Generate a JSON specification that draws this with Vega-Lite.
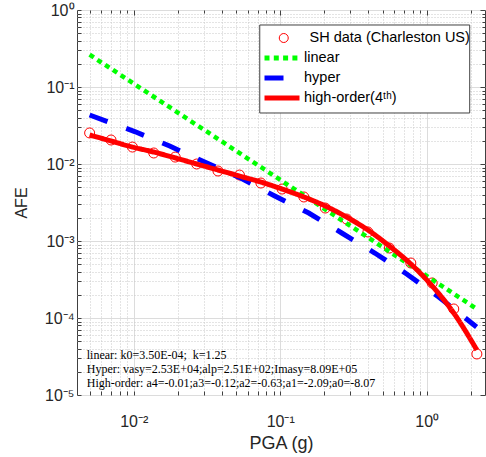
{
  "$schema": "https://vega.github.io/schema/vega-lite/v6.json",
  "autosize": "none",
  "width": 408,
  "height": 385,
  "padding": {"left": 77, "top": 10, "right": 1, "bottom": 62},
  "background": "white",
  "config": {
    "view": {"stroke": "#404040", "strokeWidth": 1},
    "font": "Liberation Sans"
  },
  "datasets": {
    "pts": [
      {"x": 0.005, "y": 0.0253, "series": "SH data (Charleston US)"},
      {"x": 0.007, "y": 0.0205, "series": "SH data (Charleston US)"},
      {"x": 0.0098, "y": 0.0166, "series": "SH data (Charleston US)"},
      {"x": 0.0137, "y": 0.0139, "series": "SH data (Charleston US)"},
      {"x": 0.0192, "y": 0.0123, "series": "SH data (Charleston US)"},
      {"x": 0.0269, "y": 0.0100, "series": "SH data (Charleston US)"},
      {"x": 0.0376, "y": 0.00811, "series": "SH data (Charleston US)"},
      {"x": 0.0527, "y": 0.00719, "series": "SH data (Charleston US)"},
      {"x": 0.0738, "y": 0.00566, "series": "SH data (Charleston US)"},
      {"x": 0.103, "y": 0.00473, "series": "SH data (Charleston US)"},
      {"x": 0.145, "y": 0.00373, "series": "SH data (Charleston US)"},
      {"x": 0.203, "y": 0.00268, "series": "SH data (Charleston US)"},
      {"x": 0.284, "y": 0.00193, "series": "SH data (Charleston US)"},
      {"x": 0.397, "y": 0.00131, "series": "SH data (Charleston US)"},
      {"x": 0.556, "y": 0.000811, "series": "SH data (Charleston US)"},
      {"x": 0.779, "y": 0.000518, "series": "SH data (Charleston US)"},
      {"x": 1.09, "y": 0.000285, "series": "SH data (Charleston US)"},
      {"x": 1.53, "y": 0.000131, "series": "SH data (Charleston US)"},
      {"x": 2.2, "y": 0.0000341, "series": "SH data (Charleston US)"}
    ],
    "lin": [
      {"x": 0.005, "y": 0.263, "series": "linear"},
      {"x": 2.2, "y": 0.000131, "series": "linear"}
    ],
    "hyp": [
      {"x": 0.005, "y": 0.0433, "series": "hyper"},
      {"x": 0.01016, "y": 0.0264, "series": "hyper"},
      {"x": 0.0176, "y": 0.0171, "series": "hyper"},
      {"x": 0.0305, "y": 0.0106, "series": "hyper"},
      {"x": 0.0537, "y": 0.00658, "series": "hyper"},
      {"x": 0.0918, "y": 0.00384, "series": "hyper"},
      {"x": 0.1566, "y": 0.00231, "series": "hyper"},
      {"x": 0.263, "y": 0.00127, "series": "hyper"},
      {"x": 0.442, "y": 0.000698, "series": "hyper"},
      {"x": 0.730, "y": 0.000373, "series": "hyper"},
      {"x": 1.208, "y": 0.000187, "series": "hyper"},
      {"x": 2.19, "y": 0.0000764, "series": "hyper"}
    ],
    "hio": [
      {"x": 0.005, "y": 0.0238, "series": "high-order(4ᵗʰ)"},
      {"x": 0.007, "y": 0.0199, "series": "high-order(4ᵗʰ)"},
      {"x": 0.0098, "y": 0.0166, "series": "high-order(4ᵗʰ)"},
      {"x": 0.0137, "y": 0.0143, "series": "high-order(4ᵗʰ)"},
      {"x": 0.0192, "y": 0.0120, "series": "high-order(4ᵗʰ)"},
      {"x": 0.0269, "y": 0.0100, "series": "high-order(4ᵗʰ)"},
      {"x": 0.0376, "y": 0.00836, "series": "high-order(4ᵗʰ)"},
      {"x": 0.0527, "y": 0.00698, "series": "high-order(4ᵗʰ)"},
      {"x": 0.0738, "y": 0.00583, "series": "high-order(4ᵗʰ)"},
      {"x": 0.103, "y": 0.00473, "series": "high-order(4ᵗʰ)"},
      {"x": 0.145, "y": 0.00373, "series": "high-order(4ᵗʰ)"},
      {"x": 0.203, "y": 0.00285, "series": "high-order(4ᵗʰ)"},
      {"x": 0.284, "y": 0.00205, "series": "high-order(4ᵗʰ)"},
      {"x": 0.397, "y": 0.00139, "series": "high-order(4ᵗʰ)"},
      {"x": 0.556, "y": 0.000861, "series": "high-order(4ᵗʰ)"},
      {"x": 0.779, "y": 0.000503, "series": "high-order(4ᵗʰ)"},
      {"x": 1.09, "y": 0.000261, "series": "high-order(4ᵗʰ)"},
      {"x": 1.53, "y": 0.000116, "series": "high-order(4ᵗʰ)"},
      {"x": 2.2, "y": 0.0000384, "series": "high-order(4ᵗʰ)"}
    ],
    "notes": [
      {"x": 0.00478, "y": 0.000033, "label": "linear: k0=3.50E-04; \u00a0k=1.25"},
      {"x": 0.00478, "y": 0.0000218, "label": "Hyper: vasy=2.53E+04;alp=2.51E+02;Imasy=8.09E+05"},
      {"x": 0.00478, "y": 0.0000143, "label": "High-order: a4=-0.01;a3=-0.12;a2=-0.63;a1=-2.09;a0=-8.07"}
    ]
  },
  "layer": [
    {
      "data": {"name": "pts"},
      "mark": {"type": "point", "shape": "circle", "filled": false, "size": 100, "strokeWidth": 1, "opacity": 1, "color": "#ff0000"},
      "encoding": {
        "x": {
          "field": "x", "type": "quantitative",
          "scale": {"type": "log", "domain": [0.0041, 2.5], "nice": false},
          "axis": {
            "orient": "bottom",
            "values": [0.005,0.006,0.007,0.008,0.009,0.01,0.02,0.03,0.04,0.05,0.06,0.07,0.08,0.09,0.1,0.2,0.3,0.4,0.5,0.6,0.7,0.8,0.9,1,2],
            "labelExpr": "datum.value == 0.01 ? '10⁻²' : datum.value == 0.1 ? '10⁻¹' : datum.value == 1 ? '10⁰' : ''",
            "labelOverlap": false, "labelBound": false, "labelFlush": false,
            "labelFontSize": 16, "labelColor": "#262626", "labelPadding": 22,
            "domain": false,
            "grid": true,
            "gridColor": {"condition": {"test": "datum.value == 0.01 || datum.value == 0.1 || datum.value == 1", "value": "#dcdcdc"}, "value": "#c8c8c8"},
            "gridDash": {"condition": {"test": "datum.value == 0.01 || datum.value == 0.1 || datum.value == 1", "value": []}, "value": [1, 2]},
            "ticks": true,
            "tickColor": "#404040",
            "tickSize": -4,
            "title": "PGA (g)", "titleFontSize": 18, "titleFontWeight": "normal", "titleColor": "#262626", "titlePadding": 5
          }
        },
        "y": {
          "field": "y", "type": "quantitative",
          "scale": {"type": "log", "domain": [0.00001, 1], "nice": false},
          "axis": {
            "orient": "left",
            "values": [0.00001,0.00002,0.00003,0.00004,0.00005,0.00006,0.00007,0.00008,0.00009,0.0001,0.0002,0.0003,0.0004,0.0005,0.0006,0.0007,0.0008,0.0009,0.001,0.002,0.003,0.004,0.005,0.006,0.007,0.008,0.009,0.01,0.02,0.03,0.04,0.05,0.06,0.07,0.08,0.09,0.1,0.2,0.3,0.4,0.5,0.6,0.7,0.8,0.9,1],
            "labelExpr": "datum.value == 1 ? '10⁰' : datum.value == 0.1 ? '10⁻¹' : datum.value == 0.01 ? '10⁻²' : datum.value == 0.001 ? '10⁻³' : datum.value == 0.0001 ? '10⁻⁴' : datum.value == 0.00001 ? '10⁻⁵' : ''",
            "labelOverlap": false, "labelBound": false, "labelFlush": false,
            "labelFontSize": 16, "labelColor": "#262626", "labelPadding": 7,
            "domain": false,
            "grid": true,
            "gridColor": {"condition": {"test": "datum.value == 1 || datum.value == 0.1 || datum.value == 0.01 || datum.value == 0.001 || datum.value == 0.0001 || datum.value == 0.00001", "value": "#dcdcdc"}, "value": "#c8c8c8"},
            "gridDash": {"condition": {"test": "datum.value == 1 || datum.value == 0.1 || datum.value == 0.01 || datum.value == 0.001 || datum.value == 0.0001 || datum.value == 0.00001", "value": []}, "value": [1, 2]},
            "ticks": true,
            "tickColor": "#404040",
            "tickSize": -4,
            "title": "AFE", "titleFontSize": 16, "titleFontWeight": "normal", "titleColor": "#262626", "titlePadding": 15
          }
        },
        "shape": {
          "field": "series", "type": "nominal",
          "scale": {"domain": ["SH data (Charleston US)"], "range": ["circle"]},
          "legend": {
            "title": null,
            "orient": "none",
            "legendX": 199.5,
            "legendY": 20,
            "direction": "vertical",
            "padding": 0,
            "symbolType": "circle",
            "symbolSize": 81,
            "symbolStrokeWidth": 1,
            "symbolStrokeColor": "#ff0000",
            "symbolFillColor": "transparent",
            "clipHeight": 16,
            "labelFont": "Liberation Sans",
            "labelFontSize": 14.5,
            "labelColor": "#000000",
            "labelOffset": 18.5,
            "labelLimit": 300
          }
        }
      }
    },
    {
      "data": {"name": "lin"},
      "mark": {"type": "line", "strokeWidth": 4.5},
      "encoding": {
        "x": {
          "field": "x", "type": "quantitative",
          "axis": {
            "orient": "top",
            "values": [0.005,0.006,0.007,0.008,0.009,0.01,0.02,0.03,0.04,0.05,0.06,0.07,0.08,0.09,0.1,0.2,0.3,0.4,0.5,0.6,0.7,0.8,0.9,1,2],
            "labels": false, "domain": false, "grid": false, "title": null,
            "tickColor": "#404040",
            "tickSize": {"condition": {"test": "datum.value == 0.01 || datum.value == 0.1 || datum.value == 1", "value": -5}, "value": -3}
          }
        },
        "y": {
          "field": "y", "type": "quantitative",
          "axis": {
            "orient": "right",
            "values": [0.00001,0.00002,0.00003,0.00004,0.00005,0.00006,0.00007,0.00008,0.00009,0.0001,0.0002,0.0003,0.0004,0.0005,0.0006,0.0007,0.0008,0.0009,0.001,0.002,0.003,0.004,0.005,0.006,0.007,0.008,0.009,0.01,0.02,0.03,0.04,0.05,0.06,0.07,0.08,0.09,0.1,0.2,0.3,0.4,0.5,0.6,0.7,0.8,0.9,1],
            "labels": false, "domain": false, "grid": false, "title": null,
            "tickColor": "#404040",
            "tickSize": {"condition": {"test": "datum.value == 1 || datum.value == 0.1 || datum.value == 0.01 || datum.value == 0.001 || datum.value == 0.0001 || datum.value == 0.00001", "value": -5}, "value": -3}
          }
        },
        "color": {
          "field": "series", "type": "nominal",
          "scale": {
            "domain": ["linear", "hyper", "high-order(4ᵗʰ)"],
            "range": ["#00ff00", "#0000ff", "#ff0000"]
          },
          "legend": {
            "title": null,
            "orient": "none",
            "legendX": 185,
            "legendY": 40,
            "direction": "vertical",
            "padding": 0,
            "symbolType": "stroke",
            "symbolSize": 1225,
            "symbolStrokeWidth": 5,
            "clipHeight": 16,
            "rowPadding": 4,
            "labelFont": "Liberation Sans",
            "labelFontSize": 14.5,
            "labelColor": "#000000",
            "labelOffset": 2,
            "labelLimit": 300
          }
        },
        "strokeDash": {
          "field": "series", "type": "nominal",
          "scale": {
            "domain": ["linear", "hyper", "high-order(4ᵗʰ)"],
            "range": [[5, 4.3], [19, 20], [1, 0]]
          },
          "legend": {
            "title": null,
            "orient": "none",
            "legendX": 185,
            "legendY": 40,
            "direction": "vertical",
            "padding": 0,
            "symbolType": "stroke",
            "symbolSize": 1225,
            "symbolStrokeWidth": 5,
            "clipHeight": 16,
            "rowPadding": 4,
            "labelFont": "Liberation Sans",
            "labelFontSize": 14.5,
            "labelColor": "#000000",
            "labelOffset": 2,
            "labelLimit": 300
          }
        }
      }
    },
    {
      "data": {"name": "hyp"},
      "mark": {"type": "line", "strokeWidth": 5},
      "encoding": {
        "x": {"field": "x", "type": "quantitative", "axis": null},
        "y": {"field": "y", "type": "quantitative", "axis": null},
        "color": {"field": "series", "type": "nominal", "legend": null},
        "strokeDash": {"field": "series", "type": "nominal", "legend": null}
      }
    },
    {
      "data": {"name": "hio"},
      "mark": {"type": "line", "strokeWidth": 5, "interpolate": "monotone"},
      "encoding": {
        "x": {"field": "x", "type": "quantitative", "axis": null},
        "y": {"field": "y", "type": "quantitative", "axis": null},
        "color": {"field": "series", "type": "nominal", "legend": null},
        "strokeDash": {"field": "series", "type": "nominal", "legend": null}
      }
    },
    {
      "data": {"name": "notes"},
      "mark": {"type": "text", "align": "left", "baseline": "middle", "font": "Liberation Serif", "fontSize": 12, "color": "#000000"},
      "encoding": {
        "x": {"field": "x", "type": "quantitative", "axis": null},
        "y": {"field": "y", "type": "quantitative", "axis": null},
        "text": {"field": "label"}
      }
    },
    {
      "data": {"values": [{}]},
      "mark": {"type": "rect", "fill": "white", "stroke": "#404040", "strokeWidth": 1},
      "encoding": {
        "x": {"datum": 0.0725, "type": "quantitative", "axis": null},
        "x2": {"datum": 1.966},
        "y": {"datum": 0.6386, "type": "quantitative", "axis": null},
        "y2": {"datum": 0.04596}
      }
    }
  ],
  "resolve": {"axis": {"x": "independent", "y": "independent"}}
}
